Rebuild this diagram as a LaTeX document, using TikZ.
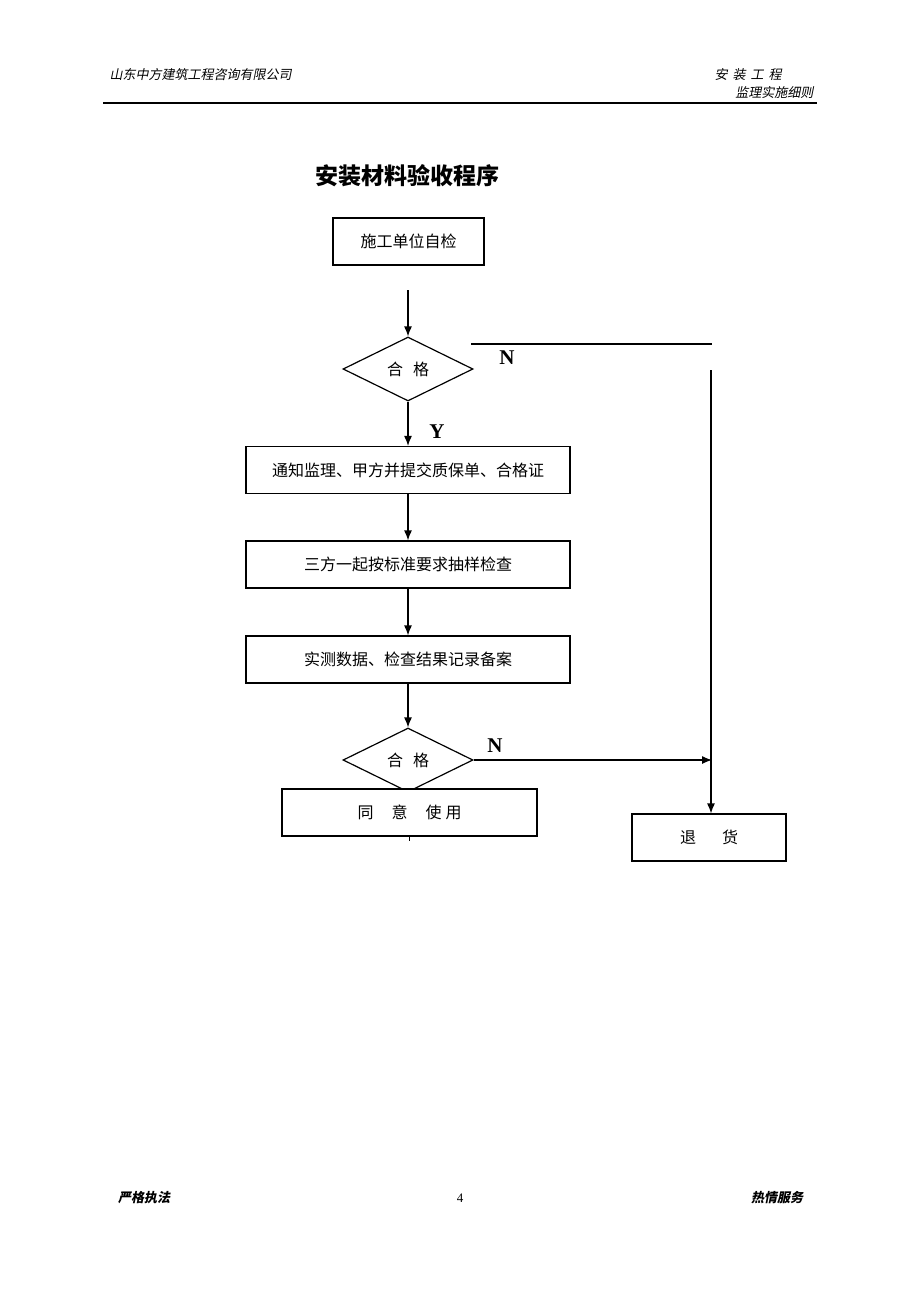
\documentclass[tikz,border=0pt]{standalone}
\usepackage{fontspec}
\usepackage{tikz}
\usetikzlibrary{shapes.geometric,arrows.meta}
\newfontfamily\cjk{Noto Sans CJK SC}
\newfontfamily\cjkslant[FakeSlant=0.2]{Noto Sans CJK SC}
\newfontfamily\latin{Liberation Serif}

\begin{document}
\begin{tikzpicture}[x=1pt, y=-1pt, >={Latex[length=10pt,width=8pt]},
  box/.style={draw, line width=1.2pt, fill=white, minimum height=47pt, inner sep=0pt, font=\cjk\fontsize{16}{16}\selectfont},
  check/.style={draw, line width=1.2pt, diamond, minimum width=130pt, minimum height=64pt, inner sep=0pt, font=\cjk\fontsize{16}{16}\selectfont},
  yn/.style={font=\latin\bfseries\fontsize{21}{21}\selectfont},
  head/.style={font=\cjkslant\fontsize{13}{13}\selectfont}]
  \useasboundingbox (0,0) rectangle (920,1302);
  % header and footer
  \node [head, anchor=west] (gongsi) at (106,75) {山东中方建筑工程咨询有限公司};
  \node [head, anchor=west] (anzhuang) at (711,75) {安\hspace{5pt}装\hspace{5pt}工\hspace{5pt}程};
  \node [head, anchor=east] (xize) at (817,93) {监理实施细则};
  \draw [line width=1.5pt] (103,103) -- (817,103);
  \node [head, font=\cjkslant\bfseries\fontsize{13}{13}\selectfont] (zhifa) at (144,1198) {严格执法};
  \node [font=\latin\fontsize{13}{13}\selectfont] (yema) at (460,1198) {4};
  \node [head, font=\cjkslant\bfseries\fontsize{13}{13}\selectfont] (fuwu) at (777,1198) {热情服务};
  % title
  \node [font=\cjk\bfseries\fontsize{23}{23}\selectfont] (biaoti) at (407,176) {安装材料验收程序};
  % flow
  \node [box, minimum width=151pt] (zijian) at (408.5,241.5) {施工单位自检};
  \coordinate (s) at (408,290);
  \node [check] (hege1) at (408,369) {合\hspace{10pt}格};
  \node [box, minimum width=324pt] (tongzhi) at (408,470) {通知监理、甲方并提交质保单、合格证};
  \node [box, minimum width=324pt] (chouyang) at (408,564.5) {三方一起按标准要求抽样检查};
  \node [box, minimum width=324pt] (jilu) at (408,659.5) {实测数据、检查结果记录备案};
  \node [check] (hege2) at (408,760) {合\hspace{10pt}格};
  \node [box, minimum width=255pt] (tongyi) at (409.5,812.5) {同\hspace{18pt}意\hspace{18pt}使\hspace{4pt}用};
  \node [box, minimum width=154pt] (tuihuo) at (709,837.5) {退\hspace{26pt}货};
  \draw [line width=1.2pt, ->] (s) -- (hege1.north);
  \draw [line width=1.2pt, ->] (hege1.south) -- (tongzhi.north);
  \draw [line width=1.2pt, ->] (tongzhi.south) -- (chouyang.north);
  \draw [line width=1.2pt, ->] (chouyang.south) -- (jilu.north);
  \draw [line width=1.2pt, ->] (jilu.south) -- (hege2.north);
  \draw [line width=1.2pt] (tongyi.south) -- ++(0,4);
  % N branches
  \coordinate (n1) at (471,344);
  \coordinate (n2) at (712,344);
  \coordinate (r1) at (711,370);
  \coordinate (r2) at (712,760);
  \draw [line width=1.2pt] (n1) -- (n2);
  \draw [line width=1.2pt, ->] (r1) -- (r1 |- tuihuo.north);
  \draw [line width=1.2pt, ->] (hege2.east) -- (r2);
  \node [yn] (y1) at (437,432) {Y};
  \node [yn] (no1) at (507,358) {N};
  \node [yn] (no2) at (495,746) {N};
\end{tikzpicture}
\end{document}
